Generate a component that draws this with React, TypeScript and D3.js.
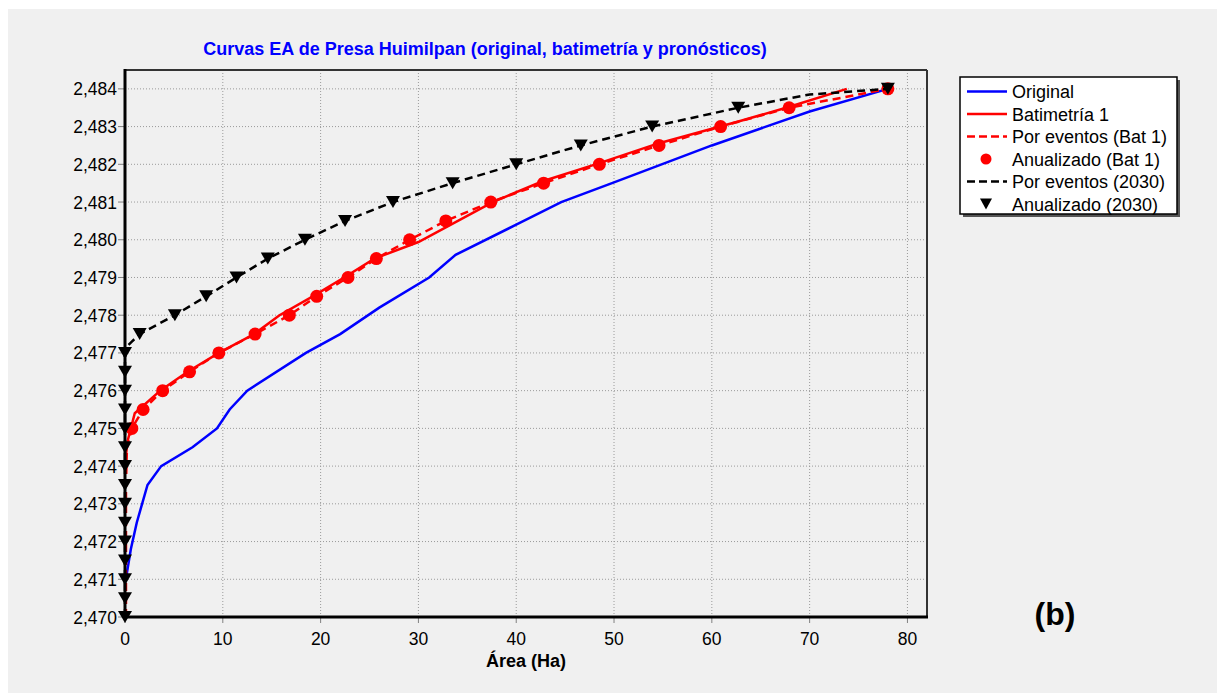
import React from "react";
import * as d3 from "d3";

// ---------- DATA ----------
const originalArea = [0.15, 0.6, 1.2, 2.3, 3.7, 6.9, 9.4, 10.7, 12.5, 18.5, 22.0, 26.0, 31.1, 33.8, 40.0, 44.6, 50.0, 60.0, 70.0, 78.0];
const originalElev = [2.4711, 2.4718, 2.4725, 2.4735, 2.474, 2.4745, 2.475, 2.4755, 2.476, 2.477, 2.4775, 2.4782, 2.479, 2.4796, 2.4804, 2.481, 2.48152, 2.4825, 2.4834, 2.484];

const bat1Area = [0.1, 0.3, 1.0, 3.6, 6.4, 9.6, 13.2, 15.8, 19.2, 22.4, 25.5, 30.0, 37.6, 42.7, 48.5, 54.6, 62.8, 67.6, 73.8];
const bat1Elev = [2.4743, 2.4747, 2.4754, 2.476, 2.4765, 2.477, 2.4775, 2.478, 2.4785, 2.479, 2.4795, 2.47994, 2.481, 2.48155, 2.48203, 2.48256, 2.48314, 2.4835, 2.484];

const eventosBat1Area = [0.1, 0.1, 0.2, 0.7, 1.85, 3.85, 6.6, 9.6, 13.3, 16.8, 19.6, 22.8, 25.7, 29.1, 32.8, 37.4, 42.8, 48.5, 54.6, 60.9, 67.9, 78.0];
const eventosBat1Elev = [2.47, 2.4735, 2.4745, 2.475, 2.4755, 2.476, 2.4765, 2.477, 2.4775, 2.478, 2.4785, 2.479, 2.4795, 2.48, 2.4805, 2.481, 2.4815, 2.482, 2.4825, 2.483, 2.4835, 2.484];

const anualBat1Area = [0.7, 1.85, 3.85, 6.6, 9.6, 13.3, 16.8, 19.6, 22.8, 25.7, 29.1, 32.8, 37.4, 42.8, 48.5, 54.6, 60.9, 67.9, 78.0];
const anualBat1Elev = [2.475, 2.4755, 2.476, 2.4765, 2.477, 2.4775, 2.478, 2.4785, 2.479, 2.4795, 2.48, 2.4805, 2.481, 2.4815, 2.482, 2.4825, 2.483, 2.4835, 2.484];

const eventos2030Area = [0, 0, 0.3, 0.7, 1.5, 5.1, 8.3, 11.4, 14.6, 18.4, 22.5, 27.4, 33.5, 40.0, 46.6, 53.9, 62.7, 70.0, 78.0];
const eventos2030Elev = [2.47, 2.477, 2.4772, 2.4773, 2.4775, 2.478, 2.4785, 2.479, 2.4795, 2.48, 2.4805, 2.481, 2.4815, 2.482, 2.4825, 2.483, 2.4835, 2.48385, 2.484];

const anual2030Area = [0, 0, 0, 0, 0, 0, 0, 0, 0, 0, 0, 0, 0, 0, 0, 1.5, 5.1, 8.3, 11.4, 14.6, 18.4, 22.5, 27.4, 33.5, 40.0, 46.6, 53.9, 62.7, 78.0];
const anual2030Elev = [2.47, 2.4705, 2.471, 2.4715, 2.472, 2.4725, 2.473, 2.4735, 2.474, 2.4745, 2.475, 2.4755, 2.476, 2.4765, 2.477, 2.4775, 2.478, 2.4785, 2.479, 2.4795, 2.48, 2.4805, 2.481, 2.4815, 2.482, 2.4825, 2.483, 2.4835, 2.484];

const xTicks = [0, 10, 20, 30, 40, 50, 60, 70, 80];
const yTicks = [2.470, 2.471, 2.472, 2.473, 2.474, 2.475, 2.476, 2.477, 2.478, 2.479, 2.480, 2.481, 2.482, 2.483, 2.484];

const titleText = "Curvas EA de Presa Huimilpan (original, batimetría y pronósticos)";
const xLabel = "Área (Ha)";
const legendLabels = ["Original", "Batimetría 1", "Por eventos (Bat 1)", "Anualizado (Bat 1)", "Por eventos (2030)", "Anualizado (2030)"];

const FONT = "'Liberation Sans', Arial, sans-serif";

export default function App() {
  const left = 125, right = 927, top = 70, bottom = 617;
  const x = d3.scaleLinear().domain([0, 82]).range([left, right]);
  const y = d3.scaleLinear().domain([2.470, 2.4845]).range([bottom, top]);

  const zip = (a: number[], e: number[]) => a.map((v, i) => [v, e[i]] as [number, number]);
  const line = d3.line<[number, number]>().x(d => x(d[0])).y(d => y(d[1]));

  const fmt = (v: number) => v.toFixed(3).replace(".", ",");
  const tri = (cx: number, cy: number, w = 14, h = 12) =>
    `M${cx - w / 2},${cy - h / 2}L${cx + w / 2},${cy - h / 2}L${cx},${cy + h / 2}Z`;

  const lx = 960, ly = 77, lw = 217, lh = 137;
  const rowY = (i: number) => 91.5 + i * 22.5;

  return (
    <svg width={1217} height={693} style={{ position: "absolute", left: 0, top: 0 }} fontFamily={FONT}>
      <rect x={0} y={0} width={1217} height={693} fill="#ffffff" />
      <rect x={8} y={9} width={1209} height={684} fill="#f0f0f0" />

      <text x={485} y={55} textAnchor="middle" fontSize={18} fontWeight="bold" fill="#0000ff">{titleText}</text>

      {/* grid */}
      {xTicks.map(t => (
        <line key={"gx" + t} x1={x(t)} x2={x(t)} y1={top} y2={bottom} stroke="#9a9a9a" strokeWidth={1} strokeDasharray="1,2" />
      ))}
      {yTicks.map(t => (
        <line key={"gy" + t} x1={left} x2={right} y1={y(t)} y2={y(t)} stroke="#9a9a9a" strokeWidth={1} strokeDasharray="1,2" />
      ))}

      {/* frame */}
      <line x1={left} x2={right} y1={top} y2={top} stroke="#333" strokeWidth={2} />
      <line x1={right} x2={right} y1={top} y2={bottom} stroke="#333" strokeWidth={2} />

      {/* ticks */}
      {yTicks.map(t => (
        <g key={"ty" + t}>
          <line x1={118} x2={left} y1={y(t)} y2={y(t)} stroke="#808080" strokeWidth={1} />
          <text x={117} y={y(t) + 6.5} textAnchor="end" fontSize={17.5} fill="#000">{fmt(t)}</text>
        </g>
      ))}
      {xTicks.map(t => (
        <g key={"tx" + t}>
          <line x1={x(t)} x2={x(t)} y1={bottom} y2={bottom + 6} stroke="#808080" strokeWidth={1} />
          <text x={x(t)} y={645} textAnchor="middle" fontSize={17.5} fill="#000">{t}</text>
        </g>
      ))}
      <text x={526} y={667} textAnchor="middle" fontSize={18} fontWeight="bold" fill="#000">{xLabel}</text>

      {/* series */}
      <path d={line(zip(originalArea, originalElev)) || ""} fill="none" stroke="#0000ff" strokeWidth={2.5} />
      <path d={line(zip(bat1Area, bat1Elev)) || ""} fill="none" stroke="#ff0000" strokeWidth={2.5} />
      <path d={line(zip(eventosBat1Area, eventosBat1Elev)) || ""} fill="none" stroke="#ff0000" strokeWidth={2.5} strokeDasharray="8,5" />
      {anualBat1Area.map((a, i) => (
        <circle key={"c" + i} cx={x(a)} cy={y(anualBat1Elev[i])} r={6.5} fill="#ff0000" />
      ))}
      <path d={line(zip(eventos2030Area, eventos2030Elev)) || ""} fill="none" stroke="#000" strokeWidth={2.5} strokeDasharray="8,5" />
      {anual2030Area.map((a, i) => (
        <path key={"t" + i} d={tri(x(a), y(anual2030Elev[i]))} fill="#000" />
      ))}

      {/* axes */}
      <line x1={left} x2={left} y1={top - 1} y2={bottom + 1.5} stroke="#000" strokeWidth={3} />
      <line x1={left - 1.5} x2={right + 1} y1={bottom} y2={bottom} stroke="#000" strokeWidth={3} />

      {/* legend */}
      <rect x={lx + 3} y={ly + 3} width={lw} height={lh} fill="#555" />
      <rect x={lx} y={ly} width={lw} height={lh} fill="#fff" stroke="#000" strokeWidth={1.5} />
      {legendLabels.map((lab, i) => {
        const cy = rowY(i);
        let sym: React.ReactNode = null;
        if (i === 0) sym = <line x1={967} x2={1007} y1={cy} y2={cy} stroke="#0000ff" strokeWidth={2.5} />;
        if (i === 1) sym = <line x1={967} x2={1007} y1={cy} y2={cy} stroke="#ff0000" strokeWidth={2.5} />;
        if (i === 2) sym = <line x1={967} x2={1007} y1={cy} y2={cy} stroke="#ff0000" strokeWidth={2.5} strokeDasharray="8,4" />;
        if (i === 3) sym = <circle cx={986} cy={cy} r={5.5} fill="#ff0000" />;
        if (i === 4) sym = <line x1={967} x2={1007} y1={cy} y2={cy} stroke="#000" strokeWidth={2.5} strokeDasharray="8,4" />;
        if (i === 5) sym = <path d={tri(986, cy, 12, 11)} fill="#000" />;
        return (
          <g key={"lg" + i}>
            {sym}
            <text x={1012} y={cy + 6.5} fontSize={18} fill="#000">{lab}</text>
          </g>
        );
      })}

      <text x={1055} y={625} textAnchor="middle" fontSize={32} fontWeight="bold" fill="#000">(b)</text>
    </svg>
  );
}
